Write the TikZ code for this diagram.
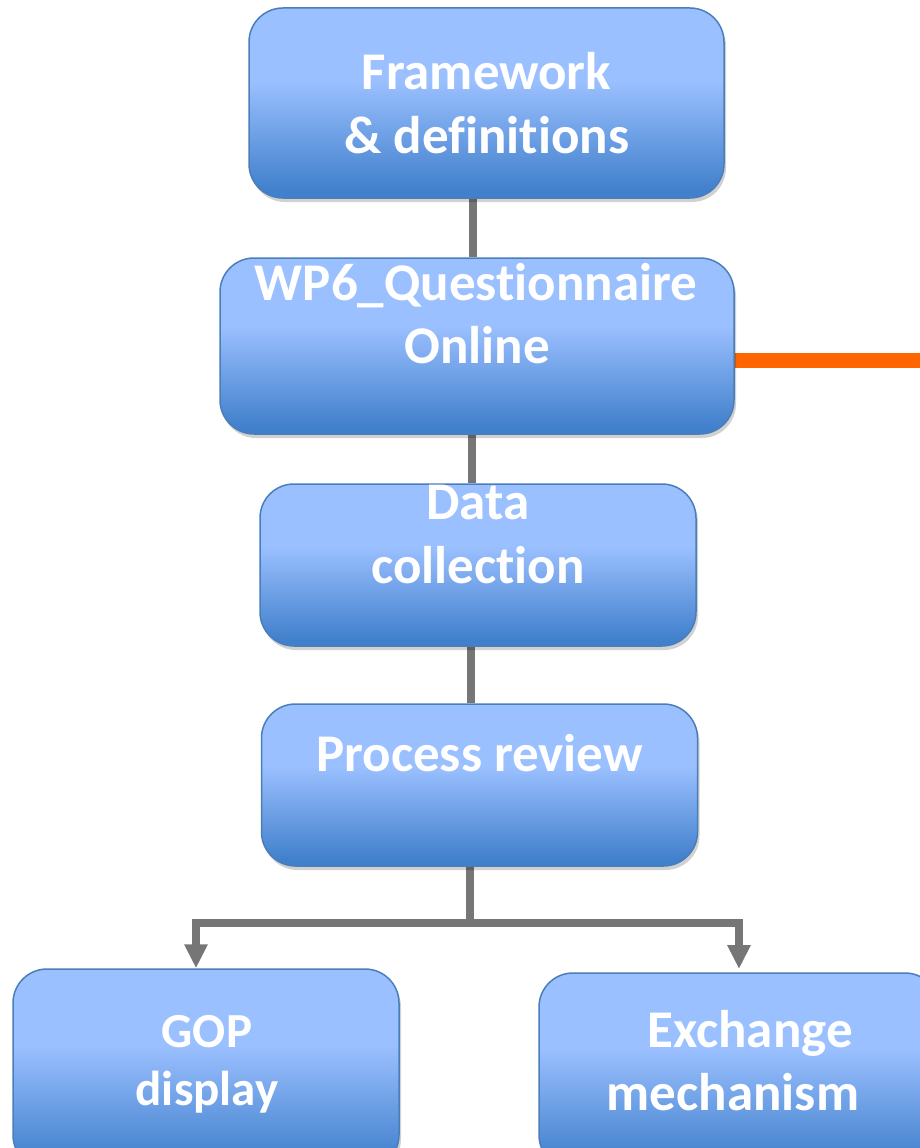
\documentclass[tikz,border=0pt]{standalone}
\usepackage{fontspec}
\setmainfont{Carlito}[Ligatures=NoCommon]
\usetikzlibrary{arrows.meta,shadows,backgrounds,calc}
\definecolor{blight}{RGB}{155,192,255}
\definecolor{bdark}{RGB}{65,128,204}
\definecolor{bborder}{RGB}{74,126,187}
\definecolor{linkgray}{RGB}{118,118,118}
\definecolor{orangeline}{RGB}{255,102,0}
\pgfdeclareverticalshading{boxshade}{100bp}{color(0bp)=(bdark); color(27bp)=(bdark); color(56bp)=(blight); color(100bp)=(blight)}
\tikzset{
  flowbox/.style={rectangle, rounded corners=34pt, draw=bborder, line width=1.5pt,
    shading=boxshade, inner sep=0pt,
    drop shadow={shadow xshift=2pt, shadow yshift=-4pt, opacity=0.18, fill=black}},
  boxtext/.style={anchor=base, text=white, inner sep=0pt,
    font=\fontsize{53}{64}\selectfont\bfseries},
  smalltext/.style={boxtext, font=\fontsize{49}{58}\selectfont\bfseries},
  graylink/.style={draw=linkgray, line width=7.5pt},
  orangelink/.style={draw=orangeline, line width=15pt},
  arrowtip/.style={-{Triangle[width=22pt,length=24pt]}}
}
\begin{document}
\begin{tikzpicture}[x=1pt,y=-1pt]
\useasboundingbox (0,0) rectangle (920,1148);
% boxes
\node[flowbox, minimum width=475pt, minimum height=190pt] (b1) at (486.5,103) {};
\node[flowbox, minimum width=514pt, minimum height=176pt] (b2) at (477,346) {};
\node[flowbox, minimum width=436pt, minimum height=162pt] (b3) at (478,565) {};
\node[flowbox, minimum width=436pt, minimum height=162pt] (b4) at (479.5,785) {};
\node[flowbox, minimum width=386pt, minimum height=200pt] (b5) at (206,1069) {};
\node[flowbox, minimum width=400pt, minimum height=196pt] (b6) at (739,1071) {};
% texts
\node[boxtext] (t1a) at (486.5,89) {Framework};
\node[boxtext] (t1b) at (487,153) {\& definitions};
\node[boxtext] (t2a) at (476,300) {WP6\_Questionnaire};
\node[boxtext] (t2b) at (477,363) {Online};
\node[boxtext] (t3a) at (478,519) {Data};
\node[boxtext] (t3b) at (478,583) {collection};
\node[boxtext] (t4) at (479.5,771) {Process review};
\node[smalltext] (t5a) at (207,1047) {GOP};
\node[smalltext] (t5b) at (207,1105) {display};
\node[boxtext] (t6a) at (750,1047) {Exchange};
\node[boxtext] (t6b) at (733,1110) {mechanism};
% connectors
\coordinate (split) at (470,923);
\coordinate (hl) at (192,923);
\coordinate (hr) at (743,923);
\coordinate (edge) at (920,360);
\coordinate (tipr) at (739,969);
\begin{scope}[on background layer]
\draw[graylink] (473,0 |- b1.south) -- (473,0 |- b2.north);
\draw[graylink] (472,0 |- b2.south) -- (472,0 |- b3.north);
\draw[graylink] (471,0 |- b3.south) -- (471,0 |- b4.north);
\draw[graylink] (470,0 |- b4.south) -- (split);
\draw[graylink] (hl) -- (hr);
\draw[graylink, arrowtip] (196,923) -- (196,0 |- b5.north);
\draw[graylink, arrowtip] (739,923) -- (tipr);
\draw[orangelink] (b2.east |- edge) -- (edge);
\end{scope}
\end{tikzpicture}
\end{document}
